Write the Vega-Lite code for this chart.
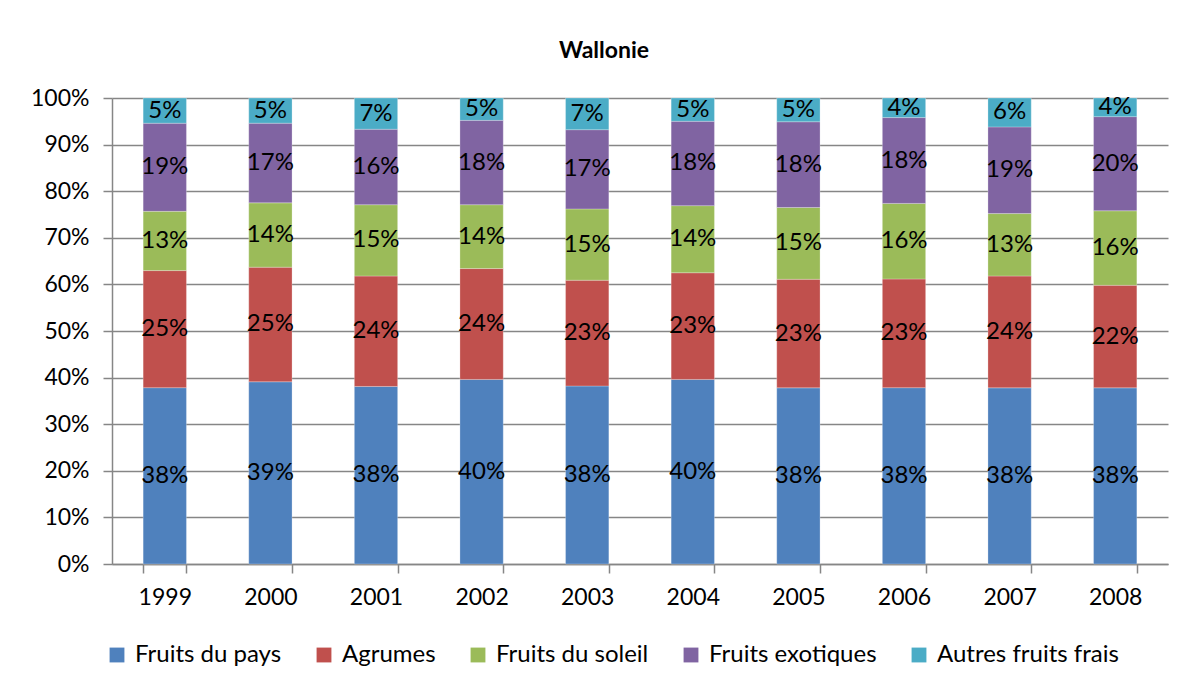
{
  "$schema": "https://vega.github.io/schema/vega-lite/v6.json",
  "autosize": "none",
  "width": 1056,
  "height": 466,
  "padding": {"left": 112, "top": 98, "right": 17, "bottom": 123},
  "background": "white",
  "title": {"text": "Wallonie", "font": "Lato", "fontSize": 23, "fontWeight": "bold", "color": "black", "anchor": "middle", "dx": -36, "offset": 24},
  "data": {"values": [
    {"year": "1999", "cat": "Fruits du pays", "value": 0.378},
    {"year": "1999", "cat": "Agrumes", "value": 0.251},
    {"year": "1999", "cat": "Fruits du soleil", "value": 0.127},
    {"year": "1999", "cat": "Fruits exotiques", "value": 0.189},
    {"year": "1999", "cat": "Autres fruits frais", "value": 0.054},
    {"year": "2000", "cat": "Fruits du pays", "value": 0.391},
    {"year": "2000", "cat": "Agrumes", "value": 0.246},
    {"year": "2000", "cat": "Fruits du soleil", "value": 0.138},
    {"year": "2000", "cat": "Fruits exotiques", "value": 0.171},
    {"year": "2000", "cat": "Autres fruits frais", "value": 0.054},
    {"year": "2001", "cat": "Fruits du pays", "value": 0.381},
    {"year": "2001", "cat": "Agrumes", "value": 0.237},
    {"year": "2001", "cat": "Fruits du soleil", "value": 0.153},
    {"year": "2001", "cat": "Fruits exotiques", "value": 0.162},
    {"year": "2001", "cat": "Autres fruits frais", "value": 0.067},
    {"year": "2002", "cat": "Fruits du pays", "value": 0.396},
    {"year": "2002", "cat": "Agrumes", "value": 0.238},
    {"year": "2002", "cat": "Fruits du soleil", "value": 0.137},
    {"year": "2002", "cat": "Fruits exotiques", "value": 0.181},
    {"year": "2002", "cat": "Autres fruits frais", "value": 0.048},
    {"year": "2003", "cat": "Fruits du pays", "value": 0.382},
    {"year": "2003", "cat": "Agrumes", "value": 0.227},
    {"year": "2003", "cat": "Fruits du soleil", "value": 0.153},
    {"year": "2003", "cat": "Fruits exotiques", "value": 0.170},
    {"year": "2003", "cat": "Autres fruits frais", "value": 0.068},
    {"year": "2004", "cat": "Fruits du pays", "value": 0.396},
    {"year": "2004", "cat": "Agrumes", "value": 0.229},
    {"year": "2004", "cat": "Fruits du soleil", "value": 0.144},
    {"year": "2004", "cat": "Fruits exotiques", "value": 0.181},
    {"year": "2004", "cat": "Autres fruits frais", "value": 0.050},
    {"year": "2005", "cat": "Fruits du pays", "value": 0.378},
    {"year": "2005", "cat": "Agrumes", "value": 0.233},
    {"year": "2005", "cat": "Fruits du soleil", "value": 0.154},
    {"year": "2005", "cat": "Fruits exotiques", "value": 0.184},
    {"year": "2005", "cat": "Autres fruits frais", "value": 0.051},
    {"year": "2006", "cat": "Fruits du pays", "value": 0.378},
    {"year": "2006", "cat": "Agrumes", "value": 0.233},
    {"year": "2006", "cat": "Fruits du soleil", "value": 0.162},
    {"year": "2006", "cat": "Fruits exotiques", "value": 0.184},
    {"year": "2006", "cat": "Autres fruits frais", "value": 0.042},
    {"year": "2007", "cat": "Fruits du pays", "value": 0.378},
    {"year": "2007", "cat": "Agrumes", "value": 0.240},
    {"year": "2007", "cat": "Fruits du soleil", "value": 0.134},
    {"year": "2007", "cat": "Fruits exotiques", "value": 0.186},
    {"year": "2007", "cat": "Autres fruits frais", "value": 0.062},
    {"year": "2008", "cat": "Fruits du pays", "value": 0.378},
    {"year": "2008", "cat": "Agrumes", "value": 0.220},
    {"year": "2008", "cat": "Fruits du soleil", "value": 0.160},
    {"year": "2008", "cat": "Fruits exotiques", "value": 0.202},
    {"year": "2008", "cat": "Autres fruits frais", "value": 0.040}
  ]},
  "transform": [
    {"calculate": "indexof(['Fruits du pays','Agrumes','Fruits du soleil','Fruits exotiques','Autres fruits frais'], datum.cat)", "as": "ord"}
  ],
  "encoding": {
    "x": {
      "field": "year", "type": "ordinal", "title": null,
      "scale": {"paddingInner": 0.59, "paddingOuter": 0.295},
      "axis": {"labelAngle": 0, "tickBand": "extent", "tickSize": 9, "tickColor": "#868686", "tickWidth": 1.5, "domainColor": "#868686", "domainWidth": 1.5, "labelFont": "Lato", "labelFontSize": 23, "labelColor": "black", "labelPadding": 13, "grid": false}
    },
    "order": {"field": "ord", "type": "quantitative"}
  },
  "layer": [
    {
      "mark": {"type": "bar", "stroke": "white", "strokeOpacity": 0.5, "strokeWidth": 0.5},
      "encoding": {
        "y": {
          "field": "value", "type": "quantitative", "stack": "normalize", "title": null,
          "scale": {"domain": [0, 1]},
          "axis": {"format": ".0%", "values": [0, 0.1, 0.2, 0.3, 0.4, 0.5, 0.6, 0.7, 0.8, 0.9, 1], "tickSize": 9, "tickColor": "#868686", "tickWidth": 1.5, "domainColor": "#868686", "domainWidth": 1.5, "gridColor": "#868686", "gridWidth": 1.5, "labelFont": "Lato", "labelFontSize": 23, "labelColor": "black", "labelPadding": 14}
        },
        "color": {
          "field": "cat", "type": "nominal", "title": null,
          "scale": {
            "domain": ["Fruits du pays", "Agrumes", "Fruits du soleil", "Fruits exotiques", "Autres fruits frais"],
            "range": ["#4F81BD", "#C0504D", "#9BBB59", "#8064A2", "#4BACC6"]
          },
          "legend": {"orient": "none", "legendX": -7, "legendY": 545, "direction": "horizontal", "symbolType": "square", "symbolSize": 220, "symbolStrokeWidth": 0, "labelFont": "Lato", "labelFontSize": 24, "labelColor": "black", "labelOffset": 6, "labelLimit": 400, "columnPadding": 30}
        }
      }
    },
    {
      "mark": {"type": "text", "font": "Lato", "fontSize": 24, "color": "black", "baseline": "middle"},
      "encoding": {
        "y": {"field": "value", "type": "quantitative", "stack": "normalize", "bandPosition": 0.5},
        "text": {"field": "value", "type": "quantitative", "format": ".0%"}
      }
    }
  ],
  "config": {"view": {"stroke": null}}
}
